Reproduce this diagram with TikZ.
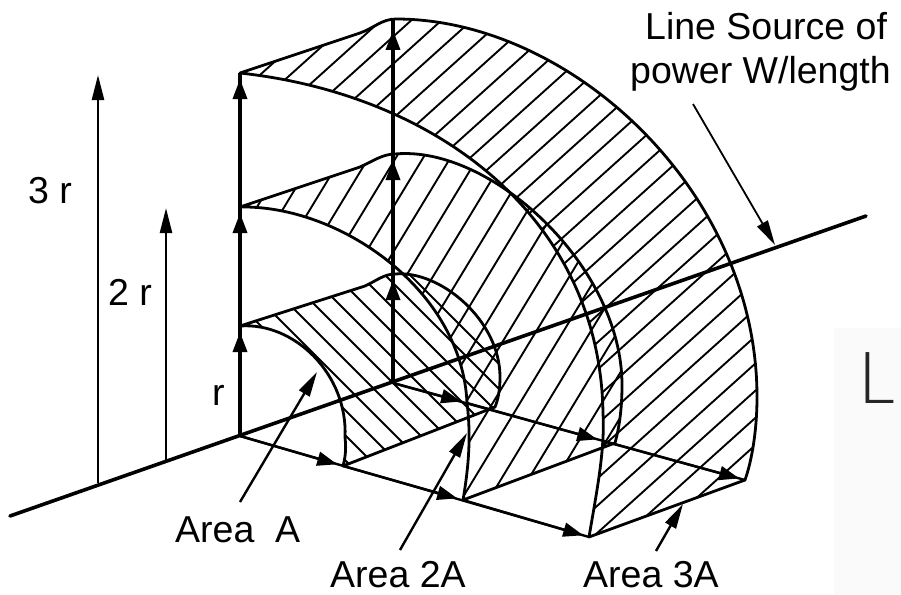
\documentclass[tikz,border=0pt]{standalone}
\usepackage{fontspec}
\setmainfont{Liberation Sans}
\usetikzlibrary{arrows.meta}
\newfontfamily\thinfont{Lato Light}
% outlines of the three areas: top edge, back arc, bottom edge, front arc
\def\areaC{(240,73) -- (360,33) .. controls (374,28) and (382,19) .. (396,19)
  .. controls (570,19) and (757,190) .. (757,397)
  .. controls (757,430) and (752,460) .. (745,480)
  -- (589,537)
  .. controls (597,490) and (605,450) .. (603,413)
  .. controls (600,220) and (440,95) .. (240,73) -- cycle}
\def\areaB{(240,207) -- (360,167) .. controls (373,161) and (383,154) .. (395,154)
  .. controls (490,145) and (622,265) .. (622,385)
  .. controls (622,405) and (620,425) .. (615,443)
  -- (463,500)
  .. controls (469,465) and (471,435) .. (467,403)
  .. controls (462,290) and (340,205) .. (240,207) -- cycle}
\def\areaA{(240,326) -- (365,286) .. controls (376,281) and (384,274) .. (395,274)
  .. controls (440,270) and (500,320) .. (500,377)
  .. controls (500,390) and (498,400) .. (495,407)
  -- (343,466)
  .. controls (346,455) and (346,447) .. (345,437)
  .. controls (348,375) and (295,322) .. (240,326) -- cycle}
\tikzset{
  edge/.style={line width=2.8pt,line join=round,line cap=round},
  hatchline/.style={line width=1.9pt},
  shaft/.style={line width=3.4pt},
  thinshaft/.style={line width=2.4pt},
  tip/.style={-{Triangle[length=20pt,width=14pt]},shorten >=6pt},
  longtip/.style={-{Triangle[length=25pt,width=12pt]}},
  lab/.style={anchor=base west,inner sep=0pt,font=\fontsize{37.5}{40}\selectfont}
}
\begin{document}
\begin{tikzpicture}[x=1pt,y=-1pt]
\useasboundingbox (0,0) rectangle (901,594);
\fill[white] (0,0) rectangle (901,594);
\fill[black!2] (834,328) rectangle (901,594);
% named points
\coordinate (S1) at (10,516);
\coordinate (S2) at (866,216);
\coordinate (O) at (240,436);
\coordinate (Q) at (393,383);
\coordinate (Pa) at (240,326);
\coordinate (Pb) at (240,207);
\coordinate (Pc) at (240,73);
\coordinate (Ra) at (393,274);
\coordinate (Rb) at (393,154);
\coordinate (Rc) at (393,19);
\coordinate (Fa) at (343,466);
\coordinate (Fb) at (463,500);
\coordinate (Fc) at (589,537);
\coordinate (Ga) at (467,403);
\coordinate (Gb) at (603,441);
\coordinate (Gc) at (745,480);
% hatching
\begin{scope}
\clip \areaC;
\foreach \k in {-3,...,30}
  \draw[hatchline] (100,{363.3+27.2*\k-90}) -- (900,{363.3+27.2*\k-810});
\end{scope}
\begin{scope}
\clip \areaB;
\foreach \k in {-4,...,16}
  \draw[hatchline] (100,{766+45*\k-165}) -- (800,{766+45*\k-1320});
\end{scope}
\begin{scope}
\clip \areaA;
\foreach \k in {-4,...,7}
  \draw[hatchline] (100,{-35+25*\k+100}) -- (600,{-35+25*\k+600});
\end{scope}
% outlines
\draw[edge] \areaC;
\draw[edge] \areaB;
\draw[edge] \areaA;
% line source
\draw[line width=3.6pt,line cap=round] (S1) -- (S2);
% radial lines
\draw[thinshaft] (O) -- (Fc);
\draw[thinshaft] (Q) -- (Gc);
\draw[thinshaft,tip] (O) -- (Fa);
\draw[thinshaft,tip] (Fa) -- (Fb);
\draw[thinshaft,tip] (Fb) -- (Fc);
\draw[thinshaft,tip] (Q) -- (Ga);
\draw[thinshaft,tip] (Ga) -- (Gb);
\draw[thinshaft,tip] (Gb) -- (Gc);
% vertical lines
\draw[shaft] (O) -- (Pc);
\draw[shaft] (Q) -- (Rc);
\draw[shaft,tip] (O) -- (Pa);
\draw[shaft,tip] (Pa) -- (Pb);
\draw[shaft,tip] (Pb) -- (Pc);
\draw[shaft,tip] (Q) -- (Ra);
\draw[shaft,tip] (Ra) -- (Rb);
\draw[shaft,tip,shorten >=11pt] (Rb) -- (Rc);
% scale arrows
\coordinate (B3) at (98,483);
\coordinate (T3) at (98,75);
\coordinate (B2) at (166,462);
\coordinate (T2) at (166,208);
\draw[thinshaft,longtip] (B3) -- (T3);
\draw[thinshaft,longtip] (B2) -- (T2);
% labels
\node[lab] (l3r) at (28,203) {3 r};
\node[lab] (l2r) at (108,305) {2 r};
\node[lab] (lr) at (212,405) {r};
\node[lab] (lA) at (175,542) {Area\ \ A};
\node[lab] (l2A) at (330,587) {Area 2A};
\node[lab] (l3A) at (583,587) {Area 3A};
\node[lab] (lS) at (645,40) {Line Source of};
\begin{scope}
\clip (600,50) rectangle (888,110);
\node[lab] (lP) at (630,83) {power W/length};
\end{scope}
\node[anchor=base west,inner sep=0pt,text=black!85,font=\thinfont\fontsize{72}{72}\selectfont] (hand) at (858,403) {L};
% pointers
\coordinate (pA0) at (240,502); \coordinate (pA1) at (317,372);
\coordinate (p2A0) at (400,550); \coordinate (p2A1) at (467,433);
\coordinate (p3A0) at (656,551); \coordinate (p3A1) at (683,504);
\coordinate (pS0) at (693,104); \coordinate (pS1) at (775,245);
\draw[thinshaft,longtip] (pA0) -- (pA1);
\draw[thinshaft,longtip] (p2A0) -- (p2A1);
\draw[thinshaft,longtip] (p3A0) -- (p3A1);
\draw[line width=1.8pt,longtip] (pS0) -- (pS1);
\end{tikzpicture}
\end{document}
